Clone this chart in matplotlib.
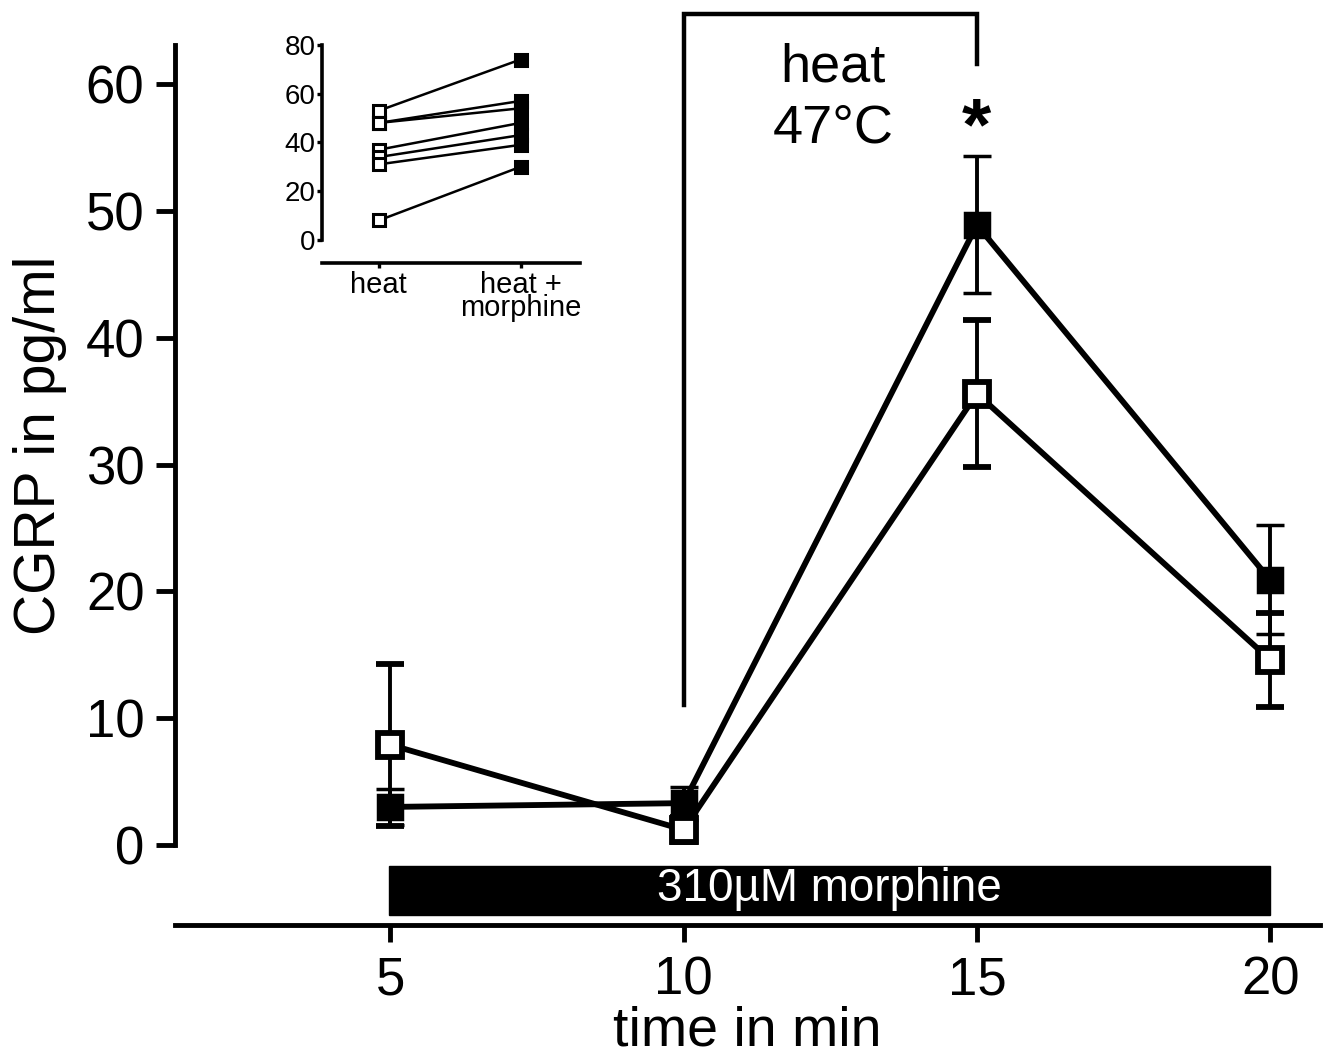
import matplotlib
matplotlib.use("Agg")
import matplotlib.pyplot as plt
from matplotlib.patches import Rectangle

plt.rcParams['font.family'] = ['Liberation Sans', 'DejaVu Sans']

# main data
time_min = [5, 10, 15, 20]
heat_only = [7.9, 1.2, 35.6, 14.6]
heat_only_err = [6.4, 1.0, 5.8, 3.7]
heat_morphine = [3.0, 3.3, 48.9, 20.9]
heat_morphine_err = [1.4, 1.3, 5.4, 4.3]
yticks = [0, 10, 20, 30, 40, 50, 60]
xticks = [5, 10, 15, 20]

# inset data (paired)
inset_cats = ["heat", "heat +\nmorphine"]
inset_heat = [53, 48, 48, 37, 34, 31, 8]
inset_heat_morphine = [74, 57, 54, 48, 43, 39, 30]
inset_yticks = [0, 20, 40, 60, 80]

fig = plt.figure(figsize=(13.35, 10.57), dpi=100)
ax = fig.add_axes([0.1311, 0.1249, 0.8577, 0.8325])

ax.set_xlim(1.33, 20.85)
ax.set_ylim(-6.31, 63.09)

for s in ['top', 'right']:
    ax.spines[s].set_visible(False)
ax.spines['left'].set_bounds(0, 63.09)
ax.spines['left'].set_linewidth(3.5)
ax.spines['bottom'].set_linewidth(3.5)

ax.set_yticks(yticks)
ax.set_xticks(xticks)
ax.tick_params(axis='y', width=3.5, length=14, labelsize=38, direction='out', pad=8)
ax.tick_params(axis='x', width=3.5, length=12, labelsize=38, direction='out', pad=10)

lw = 4.2
ax.errorbar(time_min, heat_morphine, yerr=heat_morphine_err, color='black', lw=lw,
            elinewidth=2.8, capsize=10, capthick=3.5, marker='s', ms=17,
            mfc='black', mec='black', mew=2.5, zorder=3, clip_on=False)
ax.errorbar(time_min, heat_only, yerr=heat_only_err, color='black', lw=lw,
            elinewidth=2.8, capsize=10, capthick=3.5, marker='s', ms=17,
            mfc='white', mec='black', mew=4.2, zorder=4, clip_on=False)

# morphine bar
ax.add_patch(Rectangle((4.97, -5.55), 20.0 - 4.97, 3.9, facecolor='black',
                       edgecolor='black', zorder=2))
ax.text((4.97 + 20.0) / 2, -3.45, "310µM morphine", color='white', fontsize=33,
        ha='center', va='center', zorder=5)

# heat bracket
ax.plot([10, 10, 15, 15], [11.0, 65.5, 65.5, 61.6], color='black', lw=3.2,
        clip_on=False, solid_joinstyle='miter')
ax.text(12.55, 61.3, "heat", fontsize=39, ha='center', va='center')
ax.text(12.55, 56.5, "47°C", fontsize=39, ha='center', va='center')
ax.text(15, 56.4, "*", fontsize=54, fontweight='bold', ha='center', va='center')

ax.set_ylabel("CGRP in pg/ml", fontsize=41)
ax.yaxis.set_label_coords(-0.094, 0.545)
ax.set_xlabel("time in min", fontsize=40, labelpad=0)

# inset
ins = fig.add_axes([0.2412, 0.7512, 0.1933, 0.2091])
ins.set_xlim(-0.4, 1.42)
ins.set_ylim(-9.44, 81.2)
for s in ['top', 'right']:
    ins.spines[s].set_visible(False)
ins.spines['left'].set_bounds(0, 80)
ins.spines['left'].set_linewidth(2.6)
ins.spines['bottom'].set_linewidth(2.6)
ins.set_yticks(inset_yticks)
ins.set_xticks([0, 1])
ins.set_xticklabels(inset_cats, linespacing=0.8)
ins.tick_params(axis='y', width=2.4, length=3.5, labelsize=20, pad=1)
ins.tick_params(axis='x', width=2.4, length=3.5, labelsize=21, pad=2)
ins.patch.set_alpha(0)
for a, b in zip(inset_heat, inset_heat_morphine):
    ins.plot([0, 1], [a, b], color='black', lw=1.8, zorder=2)
    ins.plot([0], [a], marker='s', ms=8, mfc='white', mec='black', mew=2.2, zorder=3, clip_on=False)
    ins.plot([1], [b], marker='s', ms=8, mfc='black', mec='black', mew=2.2, zorder=3, clip_on=False)

fig.savefig("out.png", dpi=100)
